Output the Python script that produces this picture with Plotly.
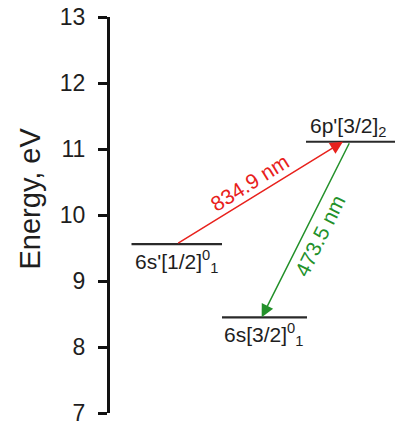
import plotly.graph_objects as go

# Energy levels (eV)
level_names = ["6s'[1/2]<sup>0</sup><sub>1</sub>", "6p'[3/2]<sub>2</sub>", "6s[3/2]<sup>0</sup><sub>1</sub>"]
level_energy = [9.56, 11.11, 8.45]

# Transitions: (from level index, to level index), wavelengths in nm
transition_from = [0, 1]
transition_to = [1, 2]
transition_nm = [834.9, 473.5]

y_ticks = [7, 8, 9, 10, 11, 12, 13]

# ---- layout-only geometry (horizontal placement of the diagram, px-like units) ----
level_x = [(21.5, 112), (196, 290), (112, 197)]
arrow_tail_x = [66.7, 240]
arrow_head_x = [233, 151.7]
trans_colors = ["#e8211c", "#23912a"]
trans_label_pos = [(140, 10.49, -32), (210, 9.69, -63.6)]
FONT = "Liberation Sans, Arial, sans-serif"
INK = "#1e1e1e"

fig = go.Figure()

# horizontal level lines
for (x0, x1), e in zip(level_x, level_energy):
    fig.add_trace(go.Scatter(x=[x0, x1], y=[e, e], mode="lines",
                             line=dict(color="#2a2a2a", width=2.2),
                             hoverinfo="skip", showlegend=False, cliponaxis=False))

annotations = []
# transition arrows with wavelength labels
for i, (a, b, nm) in enumerate(zip(transition_from, transition_to, transition_nm)):
    annotations.append(dict(
        x=arrow_head_x[i], y=level_energy[b], ax=arrow_tail_x[i], ay=level_energy[a],
        xref="x", yref="y", axref="x", ayref="y", text="", showarrow=True,
        arrowhead=2, arrowsize=1.7, arrowwidth=1.5, arrowcolor=trans_colors[i], standoff=0,
    ))
    lx, ly, ang = trans_label_pos[i]
    annotations.append(dict(
        x=lx, y=ly, xref="x", yref="y", text=f"{nm} nm", showarrow=False,
        textangle=ang, font=dict(family=FONT, size=21, color=trans_colors[i]),
    ))

# level labels
annotations.append(dict(x=238, y=level_energy[1], xref="x", yref="y", text=level_names[1],
                        showarrow=False, xanchor="center", yanchor="bottom", yshift=0,
                        font=dict(family=FONT, size=21, color=INK)))
annotations.append(dict(x=level_x[0][0] + 1, y=level_energy[0], xref="x", yref="y", text=level_names[0],
                        showarrow=False, xanchor="left", yanchor="top", yshift=-1,
                        font=dict(family=FONT, size=21, color=INK)))
annotations.append(dict(x=level_x[2][0], y=level_energy[2], xref="x", yref="y", text=level_names[2],
                        showarrow=False, xanchor="left", yanchor="top", yshift=-1,
                        font=dict(family=FONT, size=21, color=INK)))

# vertical axis title
annotations.append(dict(x=-81 / 285, y=10.25, xref="paper", yref="y", text="Energy, eV", showarrow=False,
                        textangle=-90, xanchor="center", yanchor="middle",
                        font=dict(family=FONT, size=29, color=INK)))

fig.update_layout(
    width=395, height=426,
    margin=dict(l=110, r=0, t=17, b=13, pad=0),
    paper_bgcolor="white", plot_bgcolor="white",
    showlegend=False,
    annotations=annotations,
    xaxis=dict(range=[0, 285], visible=False, fixedrange=True, automargin=False),
    yaxis=dict(
        range=[7, 13], tickvals=y_ticks, ticktext=[str(t) for t in y_ticks],
        showline=True, linecolor="#111", linewidth=3,
        ticks="outside", ticklen=9, tickwidth=3, tickcolor="#111",
        showgrid=False, zeroline=False, automargin=False,
        tickfont=dict(family=FONT, size=23, color=INK),
        ticklabelstandoff=8, ticklabeloverflow="allow",
    ),
)

fig.write_html("out.html")
